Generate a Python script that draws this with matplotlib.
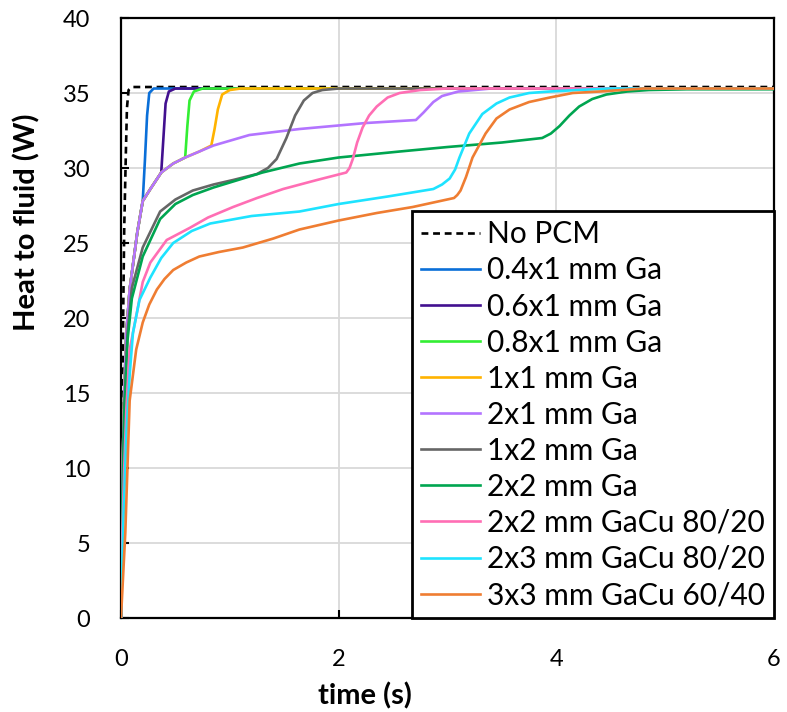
import matplotlib
matplotlib.use("Agg")
import matplotlib.pyplot as plt

plt.rcParams['font.family'] = ['Lato', 'DejaVu Sans']

# Heat delivered to the fluid over time for each PCM configuration
labels = ["No PCM", "0.4x1 mm Ga", "0.6x1 mm Ga", "0.8x1 mm Ga", "1x1 mm Ga",
          "2x1 mm Ga", "1x2 mm Ga", "2x2 mm Ga", "2x2 mm GaCu 80/20",
          "2x3 mm GaCu 80/20", "3x3 mm GaCu 60/40"]
colors = ["#000000", "#0a6fd8", "#42108f", "#33ee33", "#ffb300",
          "#b374ff", "#666666", "#00a550", "#ff6eb4", "#1ee3ff", "#ef7d32"]

t_nopcm = [0, 0.01, 0.02, 0.03, 0.045, 0.055, 0.07, 0.1, 6]
q_nopcm = [0, 10, 20, 26, 31, 34, 35.2, 35.4, 35.4]

t_04 = [0, 0.01, 0.03, 0.05, 0.08, 0.15, 0.2, 0.22, 0.24, 0.26, 0.3, 6]
q_04 = [0, 8, 15, 19, 21.9, 25.7, 27.8, 30.5, 33.5, 35.0, 35.3, 35.3]

t_06 = [0, 0.01, 0.03, 0.05, 0.08, 0.15, 0.2, 0.27, 0.37, 0.39, 0.41, 0.44, 0.5, 6]
q_06 = [0, 8, 15, 19, 21.9, 25.7, 27.8, 28.6, 29.7, 32.0, 34.3, 35.1, 35.3, 35.3]

t_08 = [0, 0.01, 0.03, 0.05, 0.08, 0.15, 0.2, 0.27, 0.37, 0.48, 0.59, 0.61, 0.63, 0.67, 0.75, 6]
q_08 = [0, 8, 15, 19, 21.9, 25.7, 27.8, 28.6, 29.7, 30.3, 30.7, 32.8, 34.5, 35.1, 35.3, 35.3]

t_1x1 = [0, 0.01, 0.03, 0.05, 0.08, 0.15, 0.2, 0.27, 0.37, 0.48, 0.59, 0.72, 0.83,
         0.86, 0.89, 0.93, 1.0, 1.1, 6]
q_1x1 = [0, 8, 15, 19, 21.9, 25.7, 27.8, 28.6, 29.7, 30.3, 30.7, 31.1, 31.5,
         32.6, 33.9, 34.9, 35.2, 35.3, 35.3]

t_2x1 = [0, 0.01, 0.03, 0.05, 0.08, 0.15, 0.2, 0.27, 0.37, 0.48, 0.59, 0.72, 0.85,
         1.18, 1.64, 2.25, 2.71, 2.78, 2.87, 2.95, 3.1, 3.4, 6]
q_2x1 = [0, 8, 15, 19, 21.9, 25.7, 27.8, 28.6, 29.7, 30.3, 30.7, 31.1, 31.5,
         32.2, 32.6, 33.0, 33.2, 33.7, 34.4, 34.8, 35.1, 35.3, 35.3]

t_1x2 = [0, 0.01, 0.03, 0.06, 0.1, 0.2, 0.36, 0.5, 0.66, 0.85, 1.03, 1.25, 1.35,
         1.43, 1.52, 1.6, 1.68, 1.76, 1.85, 2.0, 6]
q_1x2 = [0, 7, 14, 19, 22, 24.7, 27.1, 27.9, 28.5, 28.9, 29.2, 29.6, 30.0,
         30.6, 32.0, 33.5, 34.5, 35.0, 35.2, 35.3, 35.3]

t_2x2 = [0, 0.01, 0.03, 0.06, 0.1, 0.2, 0.36, 0.5, 0.66, 0.85, 1.03, 1.3, 1.64,
         2.0, 2.56, 3.0, 3.5, 3.87, 3.95, 4.03, 4.12, 4.21, 4.33, 4.46, 4.65,
         4.85, 5.2, 6]
q_2x2 = [0, 6.5, 13.5, 18.5, 21.3, 24.1, 26.6, 27.6, 28.2, 28.7, 29.1, 29.7, 30.3,
         30.7, 31.1, 31.4, 31.7, 32.0, 32.3, 32.8, 33.5, 34.1, 34.6, 34.9, 35.1,
         35.2, 35.25, 35.25]

t_gacu8 = [0, 0.01, 0.03, 0.05, 0.08, 0.15, 0.2, 0.27, 0.42, 0.63, 0.8, 1.03, 1.25,
           1.49, 1.8, 2.07, 2.1, 2.13, 2.17, 2.22, 2.28, 2.35, 2.45, 2.56, 2.75, 3.0, 6]
q_gacu8 = [0, 5, 10, 14, 17.9, 20.5, 22.4, 23.7, 25.2, 26.0, 26.7, 27.4, 28.0,
           28.6, 29.2, 29.7, 30.0, 30.6, 31.7, 32.7, 33.5, 34.1, 34.7, 35.0, 35.2, 35.3, 35.3]

t_gacu23 = [0, 0.02, 0.05, 0.08, 0.11, 0.17, 0.27, 0.37, 0.48, 0.65, 0.82, 1.2, 1.64,
            2.0, 2.45, 2.87, 2.95, 3.02, 3.07, 3.11, 3.2, 3.32, 3.45, 3.57, 3.75,
            3.94, 4.2, 4.5, 6]
q_gacu23 = [0, 6, 12.3, 16.2, 19.0, 21.2, 22.7, 24.0, 25.0, 25.8, 26.3, 26.8, 27.1,
            27.6, 28.1, 28.6, 28.9, 29.3, 29.9, 30.7, 32.3, 33.6, 34.3, 34.7, 35.0,
            35.1, 35.2, 35.3, 35.3]

t_gacu64 = [0, 0.04, 0.08, 0.14, 0.2, 0.26, 0.33, 0.4, 0.48, 0.6, 0.72, 0.9, 1.12,
            1.4, 1.64, 2.0, 2.35, 2.68, 3.06, 3.09, 3.12, 3.17, 3.23, 3.35, 3.45,
            3.57, 3.75, 3.94, 4.15, 4.4, 4.8, 6]
q_gacu64 = [0, 5.7, 14.5, 17.9, 19.7, 20.9, 21.9, 22.6, 23.2, 23.7, 24.1, 24.4, 24.7,
            25.3, 25.9, 26.5, 27.0, 27.4, 28.0, 28.2, 28.5, 29.4, 30.7, 32.3, 33.3,
            33.9, 34.4, 34.7, 35.0, 35.1, 35.3, 35.3]

times = [t_nopcm, t_04, t_06, t_08, t_1x1, t_2x1, t_1x2, t_2x2, t_gacu8, t_gacu23, t_gacu64]
heats = [q_nopcm, q_04, q_06, q_08, q_1x1, q_2x1, q_1x2, q_2x2, q_gacu8, q_gacu23, q_gacu64]

x_ticks = [0, 2, 4, 6]
y_ticks = [0, 5, 10, 15, 20, 25, 30, 35, 40]

fig = plt.figure(figsize=(7.87, 7.12), dpi=100)
ax = fig.add_axes([0.1537, 0.132, 0.8298, 0.8427])

for i, (t, q, lab, c) in enumerate(zip(times, heats, labels, colors)):
    ls = (0, (2.6, 1.8)) if i == 0 else '-'
    ax.plot(t, q, color=c, lw=1.9, ls=ls, label=lab, zorder=3)

ax.set_xlim(0, 6)
ax.set_ylim(0, 40)
ax.set_xticks(x_ticks)
ax.set_yticks(y_ticks)
ax.grid(True, color='#d9d9d9', lw=1.3, zorder=0)
ax.set_axisbelow(True)
for s in ax.spines.values():
    s.set_linewidth(1.6)
    s.set_color('black')
ax.tick_params(direction='in', length=6, width=1.5, labelsize=17, pad=22, colors='black')

ax.set_xlabel("time (s)", fontsize=21, fontweight='bold')
ax.xaxis.set_label_coords(0.374, -0.107)
ax.set_ylabel("Heat to fluid (W)", fontsize=21, fontweight='bold')
ax.yaxis.set_label_coords(-0.124, 0.66)

leg = ax.legend(loc='lower right', fontsize=21.5, frameon=True, fancybox=False,
                borderaxespad=0, handlelength=1.95, handletextpad=0.25,
                labelspacing=0.27, borderpad=0.3, edgecolor='black')
leg.get_frame().set_linewidth(2)
leg.get_frame().set_alpha(1)

fig.savefig("out.png", dpi=100)
